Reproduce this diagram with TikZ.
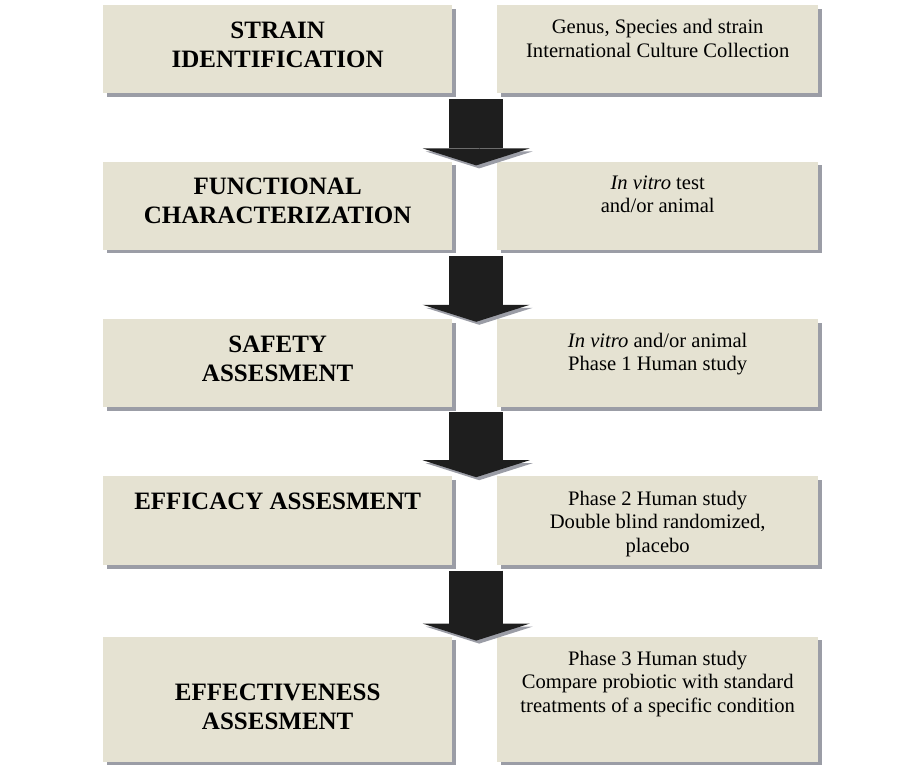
\documentclass[tikz,border=0pt]{standalone}
\usepackage{fontspec}
\setmainfont{Liberation Serif}
\usepackage{tikz}
\usetikzlibrary{calc,shadows,arrows.meta}
\definecolor{boxfill}{RGB}{229,226,210}
\definecolor{boxshade}{RGB}{155,157,166}
\definecolor{arrowfill}{RGB}{30,30,30}
\tikzset{
    stepbox/.style={
        fill=boxfill,
        minimum height=88pt,
        inner sep=0pt,
        anchor=north west,
        drop shadow={shadow xshift=3.5pt,shadow yshift=-3.5pt,fill=boxshade,opacity=1}
    },
    stagebox/.style={
        stepbox,
        minimum width=349pt
    },
    detailbox/.style={
        stepbox,
        minimum width=321pt
    },
    stageline/.style={
        anchor=north,
        align=center,
        inner sep=0pt,
        font=\fontsize{25}{29}\selectfont\bfseries
    },
    detailline/.style={
        anchor=north,
        align=center,
        inner sep=0pt,
        font=\fontsize{20.6}{23.7}\selectfont
    },
    downarrow/.style={
        draw=arrowfill,
        line width=54pt,
        -{Triangle[width=107pt,length=17pt,line width=0pt]},
        preaction={draw=boxshade,transform canvas={xshift=3pt,yshift=-3pt}}
    }
}
\begin{document}
\begin{tikzpicture}[x=1pt,y=1pt]
    \useasboundingbox (0,0) rectangle (909,-765);

    %% Row 1: strain identification
    \node (S1) [stagebox] at (103,-5) {};
    \node (D1) [detailbox] at (497,-5) {};
    \node (S1t) [stageline] at ($(S1.north)+(0,-16.5)$) {STRAIN\\IDENTIFICATION};
    \node (D1t) [detailline] at ($(D1.north)+(0,-14)$) {Genus, Species and strain\\International Culture Collection};

    %% Row 2: functional characterization
    \node (S2) [stagebox] at ($(S1.south west)+(0,-68)$) {};
    \node (D2) [detailbox] at ($(D1.south west)+(0,-68)$) {};
    \node (S2t) [stageline] at ($(S2.north)+(0,-16)$) {FUNCTIONAL\\CHARACTERIZATION};
    \node (D2t) [detailline] at ($(D2.north)+(0,-14)$) {\textit{In vitro} test\\and/or animal};

    %% Row 3: safety
    \node (S3) [stagebox] at ($(S2.south west)+(0,-69)$) {};
    \node (D3) [detailbox] at ($(D2.south west)+(0,-69)$) {};
    \node (S3t) [stageline] at ($(S3.north)+(0,-17)$) {SAFETY\\ASSESMENT};
    \node (D3t) [detailline] at ($(D3.north)+(0,-14)$) {\textit{In vitro} and/or animal\\Phase 1 Human study};

    %% Row 4: efficacy
    \node (S4) [stagebox,minimum height=89pt] at ($(S3.south west)+(0,-69)$) {};
    \node (D4) [detailbox,minimum height=89pt] at ($(D3.south west)+(0,-69)$) {};
    \node (S4t) [stageline] at ($(S4.north)+(0,-17)$) {EFFICACY ASSESMENT};
    \node (D4t) [detailline] at ($(D4.north)+(0,-14.5)$) {Phase 2 Human study\\Double blind randomized,\\placebo};

    %% Row 5: effectiveness
    \node (S5) [stagebox,minimum height=125pt] at ($(S4.south west)+(0,-71)$) {};
    \node (D5) [detailbox,minimum height=125pt] at ($(D4.south west)+(0,-71)$) {};
    \node (S5t) [stageline] at ($(S5.north)+(0,-47)$) {EFFECTIVENESS\\ASSESMENT};
    \node (D5t) [detailline] at ($(D5.north)+(0,-14)$) {Phase 3 Human study\\Compare probiotic with standard\\treatments of a specific condition};

    %% arrows between the rows
    \draw[downarrow] ($(S1.south east)!0.5!(D1.south west)+(1.5,-6)$) -- ($(S2.north east)!0.5!(D2.north west)+(1.5,-4)$);
    \draw[downarrow] ($(S2.south east)!0.5!(D2.south west)+(1.5,-6)$) -- ($(S3.north east)!0.5!(D3.north west)+(1.5,-3)$);
    \draw[downarrow] ($(S3.south east)!0.5!(D3.south west)+(1.5,-5)$) -- ($(S4.north east)!0.5!(D4.north west)+(1.5,-1)$);
    \draw[downarrow] ($(S4.south east)!0.5!(D4.south west)+(1.5,-5)$) -- ($(S5.north east)!0.5!(D5.north west)+(1.5,-4)$);

\end{tikzpicture}
\end{document}
